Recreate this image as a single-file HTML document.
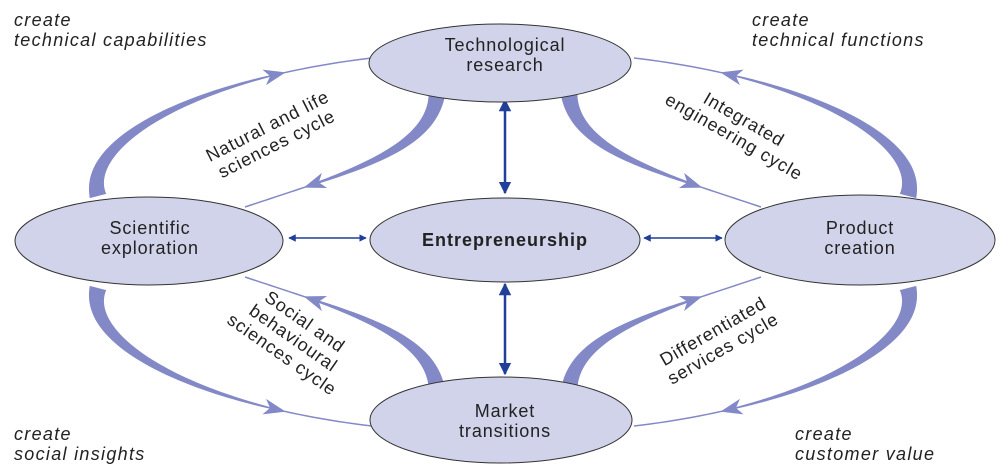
<!DOCTYPE html>
<html><head><meta charset="utf-8"><style>
body{margin:0;background:#fff}
svg{display:block}
text{font-family:"Liberation Sans",sans-serif;fill:#222}
.it{font-style:italic;font-size:18px;letter-spacing:1.3px}
.el{fill:#d0d3ea;stroke:#333;stroke-width:1}
.lab{font-size:18px;text-anchor:middle;letter-spacing:0.9px}
</style></head><body>
<svg id="s" width="1003" height="467" viewBox="0 0 1003 467">
<defs>
<marker id="ah" viewBox="0 0 10 10" refX="9" refY="5" markerWidth="5" markerHeight="5" orient="auto-start-reverse"><path d="M0,0L10,5L0,10z" fill="#1f3f99"/></marker>
</defs>
<g id="arcs"></g>
<g stroke="#1f3f99" stroke-width="2.5" fill="none">
<line x1="505" y1="100" x2="505" y2="193" marker-start="url(#ah)" marker-end="url(#ah)"/>
<line x1="505" y1="284" x2="505" y2="374" marker-start="url(#ah)" marker-end="url(#ah)"/>
<line x1="289" y1="238" x2="366" y2="238" stroke-width="1.5" marker-start="url(#ah)" marker-end="url(#ah)"/>
<line x1="644" y1="238" x2="722" y2="238" stroke-width="1.5" marker-start="url(#ah)" marker-end="url(#ah)"/>
</g>
<g><ellipse class="el" cx="500" cy="63" rx="131" ry="39"/><text class="lab" x="505" y="51">Technological</text><text class="lab" x="505" y="71">research</text></g>
<g><ellipse class="el" cx="149" cy="241" rx="134" ry="44"/><text class="lab" x="150" y="234">Scientific</text><text class="lab" x="150" y="254">exploration</text></g>
<g><ellipse class="el" cx="505" cy="240" rx="135" ry="42"/><text class="lab" x="505" y="246" style="font-weight:bold;letter-spacing:1px">Entrepreneurship</text></g>
<g><ellipse class="el" cx="860" cy="240" rx="135" ry="45"/><text class="lab" x="860" y="234">Product</text><text class="lab" x="860" y="254">creation</text></g>
<g><ellipse class="el" cx="501" cy="420" rx="131" ry="43"/><text class="lab" x="505" y="417">Market</text><text class="lab" x="505" y="437">transitions</text></g>
<g>
<text class="it" x="14" y="26">create</text><text class="it" x="14" y="46">technical capabilities</text>
<text class="it" x="752" y="26">create</text><text class="it" x="752" y="46">technical functions</text>
<text class="it" x="14" y="440">create</text><text class="it" x="14" y="460">social insights</text>
<text class="it" x="795" y="440">create</text><text class="it" x="795" y="460">customer value</text>
</g>
<g>
<g transform="translate(272,135) rotate(-27)"><text class="lab" y="-4">Natural and life</text><text class="lab" y="16">sciences cycle</text></g>
<g transform="translate(735,135) rotate(30)"><text class="lab" y="-12">Integrated</text><text class="lab" y="8">engineering cycle</text></g>
<g transform="translate(290,343) rotate(35)"><text class="lab" y="-20">Social and</text><text class="lab" y="0">behavioural</text><text class="lab" y="20">sciences cycle</text></g>
<g transform="translate(718,340) rotate(-30)"><text class="lab" y="-4">Differentiated</text><text class="lab" y="16">services cycle</text></g>
</g>
</svg>
<script>
const arcs=[
 {n:'outer',p:[[98,196],[82,140],[200,78],[372,58]],w:[17,1.5]},
 {n:'inner',p:[[437,93],[432,150],[350,172],[245,207]],w:[17,1.5]}
];
const mirrors=[['top-left',1,1],['top-right',-1,1],['bottom-left',1,-1],['bottom-right',-1,-1]];
const g=document.getElementById('arcs');
function bez(p,t){const u=1-t;return[0,1].map(i=>u*u*u*p[0][i]+3*u*u*t*p[1][i]+3*u*t*t*p[2][i]+t*t*t*p[3][i]);}
mirrors.forEach(m=>{
 arcs.forEach(a=>{
  const p=a.p.map(q=>[m[1]>0?q[0]:1006-q[0],m[2]>0?q[1]:484-q[1]]);
  const L=[],R=[];const N=60;
  for(let i=0;i<=N;i++){const t=i/N;const c=bez(p,t);const c2=bez(p,Math.min(1,t+0.01)),c1=bez(p,Math.max(0,t-0.01));
   let dx=c2[0]-c1[0],dy=c2[1]-c1[1];const l=Math.hypot(dx,dy);dx/=l;dy/=l;
   const tt=Math.min(1,t/0.8);const w=(a.w[0]+(a.w[1]-a.w[0])*Math.pow(tt,0.8))/2;
   L.push([c[0]-dy*w,c[1]+dx*w]);R.push([c[0]+dy*w,c[1]-dx*w]);}
  const path=document.createElementNS('http://www.w3.org/2000/svg','path');
  path.setAttribute('d','M'+L.map(q=>q.join(',')).join('L')+'L'+R.reverse().map(q=>q.join(',')).join('L')+'Z');
  path.setAttribute('fill','#8389c6');
  
  
  g.appendChild(path);
  const t=a.n==='outer'?0.8:0.77;const c=bez(p,t),c2=bez(p,t+0.01);let dx=c2[0]-c[0],dy=c2[1]-c[1];const l=Math.hypot(dx,dy);dx/=l;dy/=l;
  const tip=[c[0]+dx*10,c[1]+dy*10],b=[c[0]-dx*12,c[1]-dy*12];
  const tri=document.createElementNS('http://www.w3.org/2000/svg','path');
  tri.setAttribute('d',`M${tip}L${b[0]-dy*8},${b[1]+dx*8}L${c[0]-dx*6},${c[1]-dy*6}L${b[0]+dy*8},${b[1]-dx*8}Z`);
  tri.setAttribute('fill','#8389c6');
  
  
  g.appendChild(tri);
 });
});
</script>
</body></html>
